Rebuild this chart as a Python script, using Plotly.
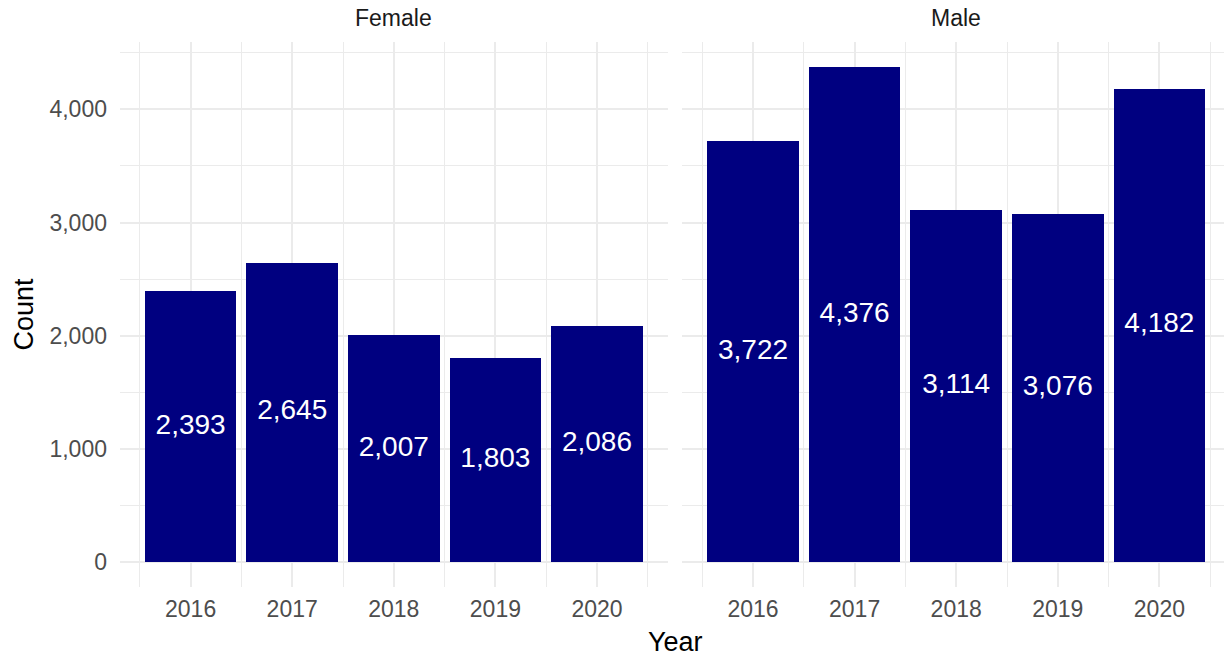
import plotly.graph_objects as go

years = [2016, 2017, 2018, 2019, 2020]
female = [2393, 2645, 2007, 1803, 2086]
male = [3722, 4376, 3114, 3076, 4182]
panels = ["Female", "Male"]

W, H = 1224, 656
ML, MR, MT, MB = 120, 0, 42, 69
plot_w = W - ML - MR

BAR_COLOR = "#000080"
GRID = "#EBEBEB"
FONT = "Liberation Sans, Arial, Helvetica, sans-serif"

# ggplot-like continuous scale with 5% expansion
bw = 0.9
xlo = min(years) - bw / 2
xhi = max(years) + bw / 2
xpad = 0.05 * (xhi - xlo)
x_range = [xlo - xpad, xhi + xpad]
ymax = max(max(female), max(male))
y_range = [-0.05 * ymax, ymax * 1.05]

# panel pixel layout
panel_px = 547.6
gap_px = 14.8
d1 = [0, panel_px / plot_w]
d2 = [(panel_px + gap_px) / plot_w, 1.0]
px_per_unit = panel_px / (x_range[1] - x_range[0])
right_px = plot_w - (panel_px + gap_px)
x_range2 = [x_range[0], x_range[0] + right_px / px_per_unit]

fig = go.Figure()
for vals, xa, ya in [(female, "x", "y"), (male, "x2", "y2")]:
    fig.add_trace(go.Bar(x=years, y=vals, width=bw, marker=dict(color=BAR_COLOR, line=dict(width=0)),
                         xaxis=xa, yaxis=ya, showlegend=False, hoverinfo="skip"))
    fig.add_trace(go.Scatter(x=years, y=[v / 2 for v in vals], mode="text",
                             text=[f"{v:,}" for v in vals],
                             textfont=dict(color="white", size=28, family=FONT),
                             xaxis=xa, yaxis=ya, showlegend=False, hoverinfo="skip"))

xcommon = dict(tickmode="array", tickvals=years, ticktext=[str(y) for y in years],
               showgrid=True, gridcolor=GRID, gridwidth=2, zeroline=False, showline=False,
               ticks="", tickfont=dict(size=23, color="#4D4D4D", family=FONT),
               minor=dict(tickmode="array", tickvals=[y - 0.5 for y in years] + [max(years) + 0.5],
                          showgrid=True, gridcolor=GRID, gridwidth=1),
               ticklabelstandoff=6, automargin=False)
ycommon = dict(range=y_range, tickmode="linear", tick0=0, dtick=1000, tickformat=",d",
               showgrid=True, gridcolor=GRID, gridwidth=2, zeroline=False, showline=False,
               ticks="", automargin=False,
               minor=dict(tickmode="linear", tick0=500, dtick=1000, showgrid=True,
                          gridcolor=GRID, gridwidth=1))

fig.update_layout(
    template="none",
    width=W, height=H,
    margin=dict(l=ML, r=MR, t=MT, b=MB, autoexpand=False),
    paper_bgcolor="white", plot_bgcolor="white",
    font=dict(family=FONT),
    bargap=0,
    xaxis=dict(domain=d1, range=x_range, anchor="y", **xcommon),
    xaxis2=dict(domain=d2, range=x_range2, anchor="y2", **xcommon),
    yaxis=dict(domain=[0, 1], anchor="x", tickfont=dict(size=23, color="#4D4D4D", family=FONT),
               ticklabelstandoff=12, **ycommon),
    yaxis2=dict(domain=[0, 1], anchor="x2", showticklabels=False, matches="y", **ycommon),
)

# facet strip titles
strip_centers = [(d1[0] + d1[1]) / 2, (d2[0] + (d2[0] + panel_px / plot_w)) / 2]
for name, cx in zip(panels, strip_centers):
    fig.add_annotation(text=name, x=cx, y=1, xref="paper", yref="paper", xanchor="center",
                       yanchor="bottom", yshift=9, showarrow=False,
                       font=dict(size=23, color="#1A1A1A", family=FONT))

# axis titles
total_w = panel_px * 2 + gap_px
fig.add_annotation(text="Year", x=(total_w / 2) / plot_w, y=0, xref="paper", yref="paper",
                   xanchor="center", yanchor="top", yshift=-38, showarrow=False,
                   font=dict(size=27, color="black", family=FONT))
fig.add_annotation(text="Count", x=0, y=0.5, xref="paper", yref="paper", textangle=-90,
                   xanchor="center", yanchor="middle", xshift=-(ML - 23), showarrow=False,
                   font=dict(size=27, color="black", family=FONT))

fig.write_html("out.html", config={"displayModeBar": False, "staticPlot": True},
               post_script="document.body.style.margin='0';document.body.style.overflow='hidden';")
